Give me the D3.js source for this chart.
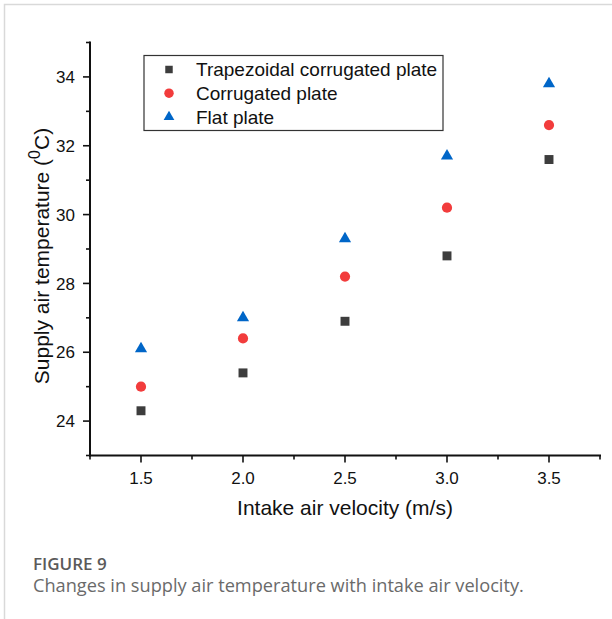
<!DOCTYPE html>
<html>
<head>
<meta charset="utf-8">
<script src="https://cdn.jsdelivr.net/npm/d3@7"></script>
<style>
  body { margin: 0; background: #fff; }
  svg { display: block; }
</style>
</head>
<body>
<div id="chart"></div>
<script>
// chart values
var velocity = [1.5, 2.0, 2.5, 3.0, 3.5];
var trapezoidal = [24.3, 25.4, 26.9, 28.8, 31.6];
var corrugated = [25.0, 26.4, 28.2, 30.2, 32.6];
var flat = [26.1, 27.0, 29.3, 31.7, 33.8];
var seriesNames = ["Trapezoidal corrugated plate", "Corrugated plate", "Flat plate"];
var xTicks = [1.5, 2.0, 2.5, 3.0, 3.5];
var yTicks = [24, 26, 28, 30, 32, 34];

var W = 612, H = 619;
var margin = {top: 42.5, right: 12, bottom: 164, left: 90};

var series = [
  {name: seriesNames[0], values: trapezoidal, type: d3.symbolSquare, size: 80, lsize: 56, color: "#3d3d3d"},
  {name: seriesNames[1], values: corrugated, type: d3.symbolCircle, size: 82, lsize: 70, color: "#f23c3c"},
  {name: seriesNames[2], values: flat, type: d3.symbolTriangle, size: 64, lsize: 50, color: "#0066c8"}
];

var svg = d3.select("#chart").append("svg")
  .attr("width", W).attr("height", H);

// page frame
svg.append("path")
  .attr("d", "M4.5," + H + "V4.5H" + W)
  .attr("fill", "none").attr("stroke", "#d9d9d9").attr("stroke-width", 1.5);

var x = d3.scaleLinear().domain([1.25, 3.75]).range([margin.left, W - margin.right]);
var y = d3.scaleLinear().domain([23, 35]).range([H - margin.bottom + 0.5, margin.top]);

var font = "'Liberation Sans', Arial, sans-serif";

// x axis
var xAxis = svg.append("g")
  .attr("transform", "translate(0," + y(23) + ")");
xAxis.append("line")
  .attr("x1", x(1.25) - 1).attr("x2", x(3.75) + 1)
  .attr("stroke", "#111").attr("stroke-width", 2);
xAxis.selectAll(".minor").data(d3.range(1.25, 3.76, 0.25))
  .enter().append("line")
  .attr("x1", d => x(d)).attr("x2", d => x(d))
  .attr("y1", 0).attr("y2", d => (Math.abs(d * 2 - Math.round(d * 2)) < 0.01 && d > 1.3 && d < 3.7) ? 7 : 4)
  .attr("stroke", "#111").attr("stroke-width", 1.6);
xAxis.selectAll("text").data(xTicks).enter().append("text")
  .attr("x", d => x(d)).attr("y", 28)
  .attr("text-anchor", "middle")
  .attr("font-family", font).attr("font-size", 17).attr("fill", "#111")
  .text(d => d3.format(".1f")(d));

// y axis
var yAxis = svg.append("g")
  .attr("transform", "translate(" + x(1.25) + ",0)");
yAxis.append("line")
  .attr("y1", y(23) + 1).attr("y2", y(35) - 1)
  .attr("stroke", "#111").attr("stroke-width", 2);
yAxis.selectAll(".minor").data(d3.range(23, 35.5, 1))
  .enter().append("line")
  .attr("y1", d => y(d)).attr("y2", d => y(d))
  .attr("x1", 0).attr("x2", d => yTicks.indexOf(d) >= 0 ? -7 : -4)
  .attr("stroke", "#111").attr("stroke-width", 1.6);
yAxis.selectAll("text").data(yTicks).enter().append("text")
  .attr("x", -15).attr("y", d => y(d)).attr("dy", "0.36em")
  .attr("text-anchor", "end")
  .attr("font-family", font).attr("font-size", 17).attr("fill", "#111")
  .text(d => d);

// axis titles
svg.append("text")
  .attr("x", (x(1.25) + x(3.75)) / 2).attr("y", 515)
  .attr("text-anchor", "middle")
  .attr("font-family", font).attr("font-size", 21).attr("fill", "#111")
  .text("Intake air velocity (m/s)");

var yt = svg.append("text")
  .attr("transform", "translate(49,256) rotate(-90)")
  .attr("text-anchor", "middle")
  .attr("font-family", font).attr("font-size", 21).attr("fill", "#111");
yt.append("tspan").text("Supply air temperature (");
yt.append("tspan").attr("font-size", 16).attr("dy", -9).text("0");
yt.append("tspan").attr("dy", 9).text("C)");

// points
series.forEach(function(s) {
  svg.append("g").selectAll("path").data(s.values).enter().append("path")
    .attr("transform", (d, i) => "translate(" + x(velocity[i]) + "," + y(d) + ")")
    .attr("d", d3.symbol().type(s.type).size(s.size))
    .attr("fill", s.color);
});

// legend
var lg = svg.append("g").attr("transform", "translate(144,55.5)");
lg.append("rect").attr("width", 299).attr("height", 75)
  .attr("fill", "#fff").attr("stroke", "#333").attr("stroke-width", 1.2);
series.forEach(function(s, i) {
  var row = lg.append("g").attr("transform", "translate(0," + (14 + i * 23.7) + ")");
  row.append("path").attr("transform", "translate(25,0)")
    .attr("d", d3.symbol().type(s.type).size(s.lsize))
    .attr("fill", s.color);
  row.append("text").attr("x", 52).attr("dy", "0.36em")
    .attr("font-family", font).attr("font-size", 19).attr("fill", "#111")
    .text(s.name);
});

// caption
svg.append("text")
  .attr("x", 33).attr("y", 570)
  .attr("font-family", "'Open Sans', sans-serif").attr("font-size", 17).attr("font-weight", 600)
  .attr("fill", "#5a5a5a")
  .text("FIGURE 9");
svg.append("text")
  .attr("x", 33).attr("y", 592)
  .attr("font-family", "'Open Sans', sans-serif").attr("font-size", 18.2)
  .attr("fill", "#6a6a6a")
  .text("Changes in supply air temperature with intake air velocity.");
</script>
</body>
</html>
